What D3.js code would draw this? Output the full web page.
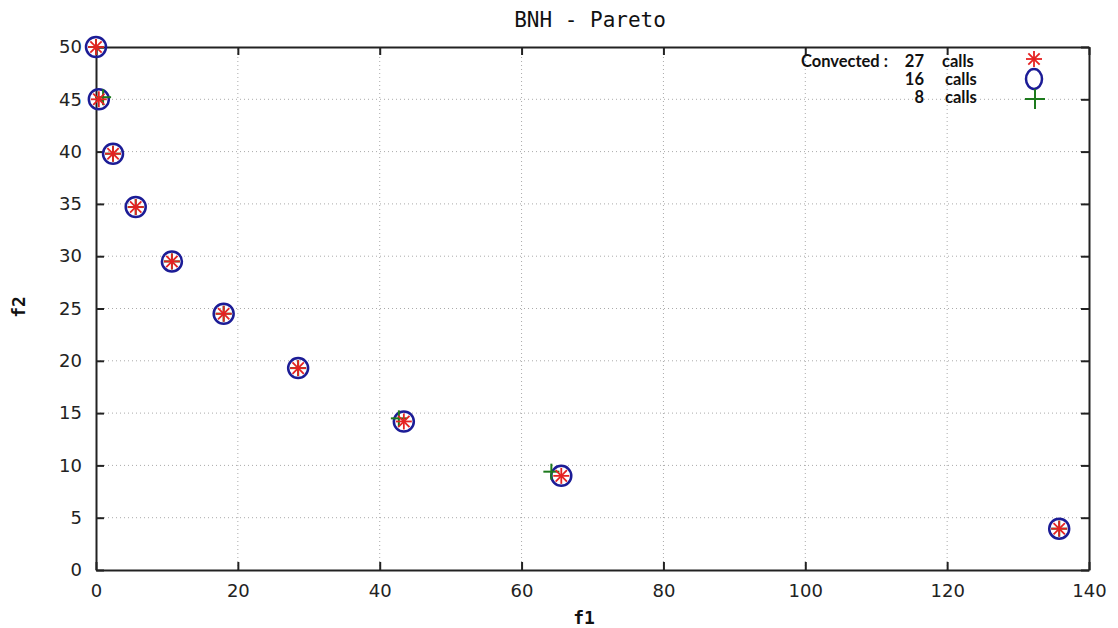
<!DOCTYPE html>
<html>
<head>
<meta charset="utf-8">
<script src="https://cdn.jsdelivr.net/npm/d3@7"></script>
<style>
  body { margin: 0; background: #fff; }
  svg { display: block; }
</style>
</head>
<body>
<div id="chart"></div>
<script>
// BNH - Pareto, three runs
const f1_27 = [0, 0.4, 2.4, 5.6, 10.7, 18.0, 28.5, 43.4, 65.6, 135.8];
const f2_27 = [50, 45.0, 39.8, 34.7, 29.5, 24.5, 19.3, 14.2, 9.0, 3.95];
const f1_16 = [0, 0.4, 2.4, 5.6, 10.7, 18.0, 28.5, 43.4, 65.6, 135.8];
const f2_16 = [50, 45.0, 39.8, 34.7, 29.5, 24.5, 19.3, 14.2, 9.0, 3.95];
const f1_8 = [0, 1.0, 2.4, 5.6, 10.7, 18.0, 28.5, 42.7, 64.2, 135.8];
const f2_8 = [50, 45.2, 39.8, 34.7, 29.5, 24.5, 19.3, 14.5, 9.4, 3.95];

const xTicks = [0, 20, 40, 60, 80, 100, 120, 140];
const yTicks = [0, 5, 10, 15, 20, 25, 30, 35, 40, 45, 50];
const legendCalls = ["27", "16", "8"];

const width = 1118, height = 628;
const margin = { top: 47, right: 29, bottom: 58, left: 96 };

const svg = d3.select("#chart")
  .append("svg")
  .attr("width", width)
  .attr("height", height);

const x = d3.scaleLinear().domain([0, 140]).range([margin.left, width - margin.right]);
const y = d3.scaleLinear().domain([0, 50]).range([height - margin.bottom, margin.top]);

const tickFont = "'DejaVu Sans', sans-serif";
const monoFont = "'DejaVu Sans Mono', monospace";

// grid
const grid = svg.append("g")
  .attr("stroke", "#aaa")
  .attr("stroke-width", 1)
  .attr("stroke-dasharray", "1,3");

grid.selectAll("line.vx")
  .data(xTicks.slice(1, -1))
  .join("line")
  .attr("x1", d => x(d)).attr("x2", d => x(d))
  .attr("y1", y(0)).attr("y2", y(50));

grid.selectAll("line.hy")
  .data(yTicks.slice(1, -1))
  .join("line")
  .attr("x1", x(0)).attr("x2", x(140))
  .attr("y1", d => y(d)).attr("y2", d => y(d));

// axes: ticks on all four sides, pointing inward
const axisStyle = g => {
  g.select(".domain").attr("stroke", "#222").attr("stroke-width", 2);
  g.selectAll(".tick line").attr("stroke", "#222").attr("stroke-width", 2);
  g.selectAll(".tick text")
    .attr("font-family", tickFont)
    .attr("font-size", 18)
    .attr("fill", "#222");
};

svg.append("g")
  .attr("transform", `translate(0,${y(0)})`)
  .call(d3.axisBottom(x).tickValues(xTicks).tickSize(-8).tickSizeOuter(0).tickPadding(14))
  .call(axisStyle);

svg.append("g")
  .attr("transform", `translate(0,${y(50)})`)
  .call(d3.axisTop(x).tickValues(xTicks).tickSize(-8).tickSizeOuter(0).tickFormat(""))
  .call(axisStyle);

svg.append("g")
  .attr("transform", `translate(${x(0)},0)`)
  .call(d3.axisLeft(y).tickValues(yTicks).tickSize(-8).tickSizeOuter(0).tickPadding(14))
  .call(axisStyle);

svg.append("g")
  .attr("transform", `translate(${x(140)},0)`)
  .call(d3.axisRight(y).tickValues(yTicks).tickSize(-8).tickSizeOuter(0).tickFormat(""))
  .call(axisStyle);

// titles
svg.append("text")
  .attr("x", 590).attr("y", 27)
  .attr("text-anchor", "middle")
  .attr("font-family", monoFont)
  .attr("font-size", 21)
  .attr("fill", "#111")
  .text("BNH - Pareto");

svg.append("text")
  .attr("x", 584).attr("y", 624)
  .attr("text-anchor", "middle")
  .attr("font-family", monoFont)
  .attr("font-weight", "bold")
  .attr("font-size", 18)
  .attr("fill", "#111")
  .text("f1");

svg.append("text")
  .attr("transform", "translate(25,307) rotate(-90)")
  .attr("text-anchor", "middle")
  .attr("font-family", monoFont)
  .attr("font-weight", "bold")
  .attr("font-size", 18)
  .attr("fill", "#111")
  .text("f2");

// marker drawing helpers
function drawCircle(g, cx, cy, rx, ry) {
  g.append("ellipse")
    .attr("cx", cx).attr("cy", cy)
    .attr("rx", rx).attr("ry", ry)
    .attr("fill", "none")
    .attr("stroke", "#1c1c96")
    .attr("stroke-width", 2.5);
}

function drawStar(g, cx, cy, r) {
  for (let i = 0; i < 4; i++) {
    const a = i * Math.PI / 4;
    g.append("line")
      .attr("x1", cx - r * Math.cos(a)).attr("y1", cy - r * Math.sin(a))
      .attr("x2", cx + r * Math.cos(a)).attr("y2", cy + r * Math.sin(a))
      .attr("stroke", "#e52222")
      .attr("stroke-width", 1.8);
  }
}

function drawPlus(g, cx, cy, r) {
  g.append("line")
    .attr("x1", cx - r).attr("x2", cx + r)
    .attr("y1", cy).attr("y2", cy)
    .attr("stroke", "#1d7a1d").attr("stroke-width", 2);
  g.append("line")
    .attr("x1", cx).attr("x2", cx)
    .attr("y1", cy - r).attr("y2", cy + r)
    .attr("stroke", "#1d7a1d").attr("stroke-width", 2);
}

const marks = svg.append("g");

f1_16.forEach((v, i) => drawCircle(marks, x(v), y(f2_16[i]), 10, 10));
f1_8.forEach((v, i) => drawPlus(marks, x(v), y(f2_8[i]), 8));
f1_27.forEach((v, i) => drawStar(marks, x(v), y(f2_27[i]), 8));

// legend
const legend = svg.append("g")
  .attr("font-family", "Lato, sans-serif")
  .attr("font-weight", "bold")
  .attr("font-size", 16.5)
  .attr("fill", "#111");

legend.append("text")
  .attr("x", 888).attr("y", 67)
  .attr("text-anchor", "end")
  .text("Convected :");

legendCalls.forEach((c, i) => {
  const by = 67 + i * 18;
  legend.append("text")
    .attr("x", 924).attr("y", by)
    .attr("text-anchor", "end")
    .text(c);
  legend.append("text")
    .attr("x", 942 + (i > 0 ? 3 : 0)).attr("y", by)
    .text("calls");
});

drawStar(legend, 1034, 59, 8);
drawCircle(legend, 1034, 79, 8, 10);
drawPlus(legend, 1035, 99, 10);
</script>
</body>
</html>
